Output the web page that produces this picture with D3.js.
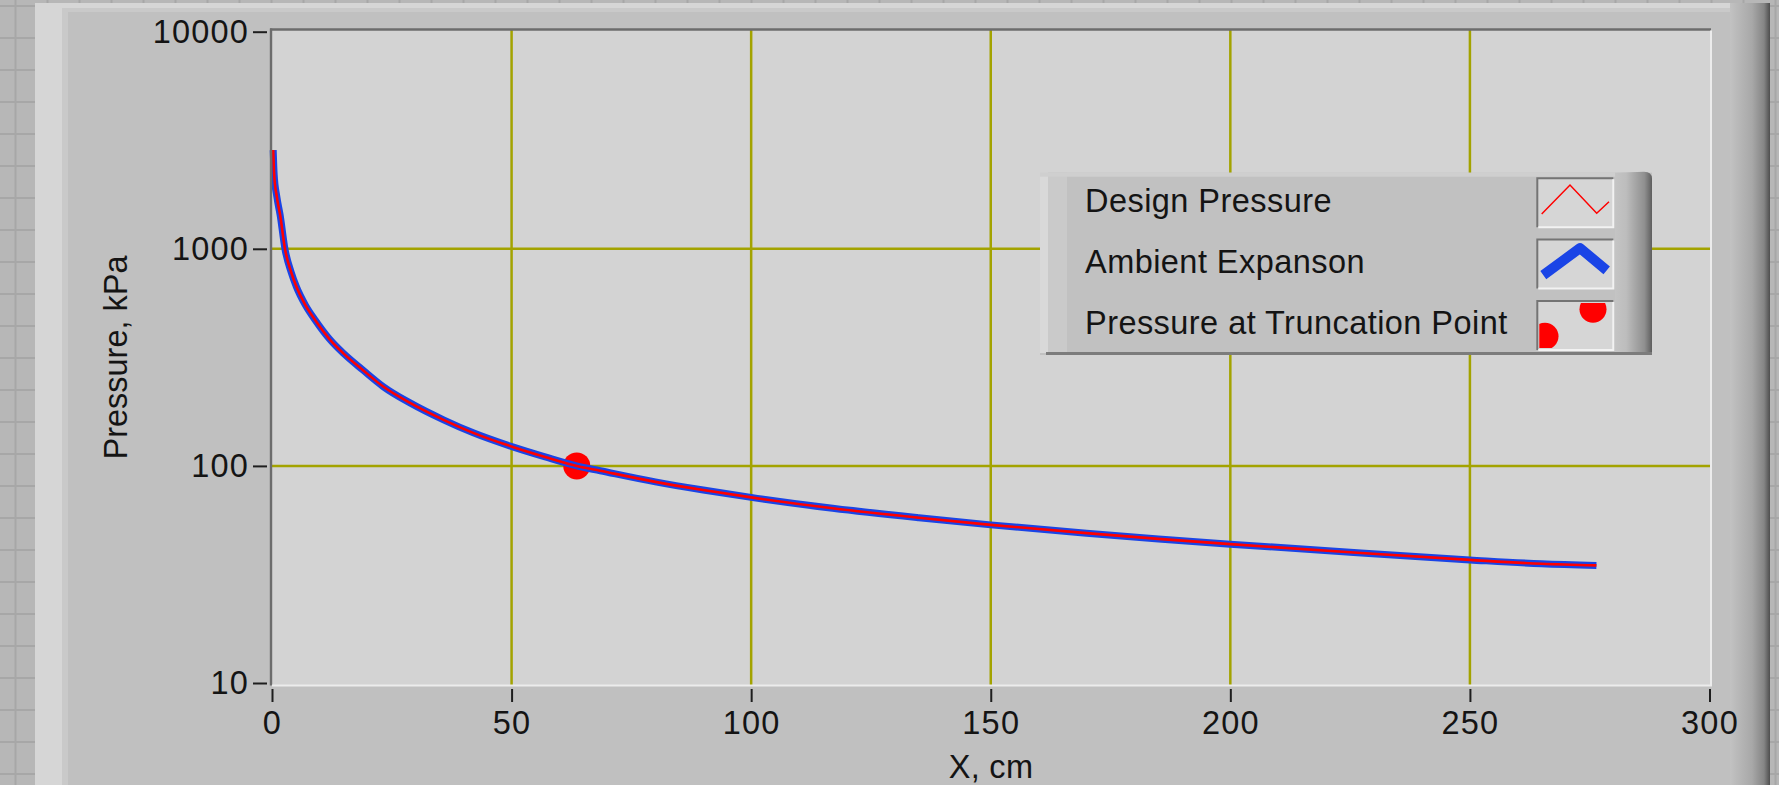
<!DOCTYPE html>
<html>
<head>
<meta charset="utf-8">
<script src="https://cdn.jsdelivr.net/npm/d3@7"></script>
<style>
  html, body { margin: 0; padding: 0; background: #b6b6b6; overflow: hidden; }
  svg { display: block; font-family: "Liberation Sans", Arial, Helvetica, sans-serif; }
</style>
</head>
<body>
<div id="chart"></div>
<script>
// values (x in cm, pressure in kPa)
const xCm = [0.25, 0.45, 1.0, 1.7, 2.7, 4, 5.1, 7, 9, 12, 14.9, 19, 23.2, 29, 35.8, 42, 50.4, 57, 63.6, 68.5,
    80, 90, 100, 117, 135, 150, 170, 185, 200, 225, 250, 265, 276.4];
const designPressure = [2850, 2200, 1740, 1430, 1000, 780, 668, 549, 470, 384, 330, 276, 232, 194, 163, 142, 122, 110, 100, 95,
    84.4, 77.4, 71.6, 63.8, 57.7, 53.5, 49, 46.1, 43.6, 40, 36.9, 35.4, 34.8];
const ambientExpansion = [2850, 2200, 1740, 1430, 1000, 780, 668, 549, 470, 384, 330, 276, 232, 194, 163, 142, 122, 110, 100, 95,
    84.4, 77.4, 71.6, 63.8, 57.7, 53.5, 49, 46.1, 43.6, 40, 36.9, 35.4, 34.8];
const truncationX = [63.6];
const truncationP = [100];

const xTicks = [0, 50, 100, 150, 200, 250, 300];
const yTicks = [10, 100, 1000, 10000];
const legendLabels = ['Design Pressure', 'Ambient Expanson', 'Pressure at Truncation Point'];
const xTitle = 'X, cm';
const yTitle = 'Pressure, kPa';

const width = 1779, height = 785;
const fontSize = '32.5px';
const textColor = '#141414';

const plot = { left: 271, top: 29.5, right: 1711, bottom: 685.5 };

const svg = d3.select('#chart').append('svg')
    .attr('width', width)
    .attr('height', height);

const defs = svg.append('defs');

// LabVIEW front panel grid behind the graph
const pat = defs.append('pattern')
    .attr('id', 'panelGrid')
    .attr('patternUnits', 'userSpaceOnUse')
    .attr('width', 32).attr('height', 32);
pat.append('rect').attr('width', 32).attr('height', 32).attr('fill', '#b7b7b7');
pat.append('rect').attr('x', 14.5).attr('y', 0).attr('width', 2).attr('height', 32).attr('fill', '#a7a7a7');
pat.append('rect').attr('x', 0).attr('y', 5).attr('width', 32).attr('height', 2).attr('fill', '#a7a7a7');

svg.append('rect').attr('width', width).attr('height', height).attr('fill', 'url(#panelGrid)');

// graph frame
svg.append('rect').attr('x', 35).attr('y', 3).attr('width', 1735).attr('height', 800).attr('fill', '#c0c0c0');
svg.append('rect').attr('x', 35).attr('y', 3).attr('width', 1735).attr('height', 5).attr('fill', '#d6d6d6');
svg.append('rect').attr('x', 35).attr('y', 8).attr('width', 1735).attr('height', 4).attr('fill', '#c9c9c9');
svg.append('rect').attr('x', 35).attr('y', 3).attr('width', 27).attr('height', 800).attr('fill', '#d6d6d6');
svg.append('rect').attr('x', 62).attr('y', 12).attr('width', 6).attr('height', 800).attr('fill', '#c9c9c9');

const rightGrad = defs.append('linearGradient').attr('id', 'rightBevel');
rightGrad.append('stop').attr('offset', '0%').attr('stop-color', '#c2c2c2');
rightGrad.append('stop').attr('offset', '55%').attr('stop-color', '#a8a8a8');
rightGrad.append('stop').attr('offset', '85%').attr('stop-color', '#858585');
rightGrad.append('stop').attr('offset', '100%').attr('stop-color', '#4e4e4e');
svg.append('rect').attr('x', 1730).attr('y', 3).attr('width', 40).attr('height', 800).attr('fill', 'url(#rightBevel)');

// scales
const x = d3.scaleLinear().domain([0, 300]).range([272, 1709.5]);
const y = d3.scaleLog().domain([10, 10000]).range([683, 31.7]);

// plot area
svg.append('rect')
    .attr('x', plot.left).attr('y', plot.top)
    .attr('width', plot.right - plot.left).attr('height', plot.bottom - plot.top)
    .attr('fill', '#d3d3d3');

// grid lines
const grid = svg.append('g').attr('stroke', '#a3a300').attr('stroke-width', 2.5);
grid.selectAll('line.gx')
    .data(xTicks.filter(d => d > 0 && d < 300))
  .enter().append('line')
    .attr('class', 'gx')
    .attr('x1', d => x(d)).attr('x2', d => x(d))
    .attr('y1', plot.top).attr('y2', plot.bottom);
grid.selectAll('line.gy')
    .data(yTicks.filter(d => d > 10 && d < 10000))
  .enter().append('line')
    .attr('class', 'gy')
    .attr('y1', d => y(d)).attr('y2', d => y(d))
    .attr('x1', plot.left).attr('x2', plot.right);

// truncation point marker sits under the curves
svg.selectAll('circle.trunc')
    .data(truncationX.map((v, i) => ({ x: v, p: truncationP[i] })))
  .enter().append('circle')
    .attr('class', 'trunc')
    .attr('cx', d => x(d.x))
    .attr('cy', d => y(d.p))
    .attr('r', 13.5)
    .attr('fill', '#ff0000');

const line = d3.line()
    .x((d, i) => x(xCm[i]))
    .y(d => y(d))
    .curve(d3.curveMonotoneX);

svg.append('path')
    .datum(ambientExpansion)
    .attr('d', line)
    .attr('fill', 'none')
    .attr('stroke', '#1a44e6')
    .attr('stroke-width', 7)
    .attr('stroke-linejoin', 'round');

svg.append('path')
    .datum(designPressure)
    .attr('d', line)
    .attr('fill', 'none')
    .attr('stroke', '#ff0000')
    .attr('stroke-width', 2.6)
    .attr('stroke-linejoin', 'round');

// sunken border of the plot area
svg.append('line').attr('x1', plot.left - 1).attr('x2', plot.right).attr('y1', plot.top).attr('y2', plot.top)
    .attr('stroke', '#6c6c6c').attr('stroke-width', 2.4);
svg.append('line').attr('x1', plot.left).attr('x2', plot.left).attr('y1', plot.top - 1).attr('y2', plot.bottom)
    .attr('stroke', '#6c6c6c').attr('stroke-width', 2.4);
svg.append('line').attr('x1', plot.left + 1).attr('x2', plot.right + 1).attr('y1', plot.bottom).attr('y2', plot.bottom)
    .attr('stroke', '#ececec').attr('stroke-width', 2);
svg.append('line').attr('x1', plot.right).attr('x2', plot.right).attr('y1', plot.top + 1).attr('y2', plot.bottom)
    .attr('stroke', '#ececec').attr('stroke-width', 2);

// axes
const yAxis = d3.axisLeft(y)
    .tickValues(yTicks)
    .tickFormat(d3.format('d'))
    .tickSize(14)
    .tickPadding(4);

const yg = svg.append('g')
    .attr('transform', 'translate(267,0)')
    .call(yAxis);
yg.select('.domain').remove();

const xAxis = d3.axisBottom(x)
    .tickValues(xTicks)
    .tickFormat(d3.format('d'))
    .tickSize(13)
    .tickPadding(9);

const xg = svg.append('g')
    .attr('transform', 'translate(0,689)')
    .call(xAxis);
xg.select('.domain').remove();

[xg, yg].forEach(g => {
    g.attr('font-family', null).attr('font-size', null);
    g.selectAll('.tick line').attr('stroke', '#1e1e1e').attr('stroke-width', 2);
    g.selectAll('.tick text').attr('fill', textColor)
        .style('font-size', fontSize)
        .style('letter-spacing', '1.2px');
});

// axis titles
svg.append('text')
    .attr('x', (plot.left + plot.right) / 2)
    .attr('y', 778)
    .attr('text-anchor', 'middle')
    .attr('fill', textColor)
    .style('font-size', fontSize)
    .style('letter-spacing', '0.3px')
    .text(xTitle);

svg.append('text')
    .attr('transform', `translate(126.5,${(plot.top + plot.bottom) / 2}) rotate(-90)`)
    .attr('text-anchor', 'middle')
    .attr('fill', textColor)
    .style('font-size', fontSize)
    .text(yTitle);

// legend
const lg = svg.append('g');
const lgBox = { x: 1040, y: 172.7, w: 612, h: 182.3 };

lg.append('rect').attr('x', lgBox.x).attr('y', lgBox.y).attr('width', lgBox.w).attr('height', lgBox.h).attr('fill', '#c1c1c1');
lg.append('rect').attr('x', lgBox.x).attr('y', lgBox.y).attr('width', 8).attr('height', lgBox.h - 2).attr('fill', '#d9d9d9');
lg.append('rect').attr('x', lgBox.x + 8).attr('y', lgBox.y).attr('width', 19).attr('height', lgBox.h - 3).attr('fill', '#cacaca');
lg.append('rect').attr('x', lgBox.x).attr('y', lgBox.y).attr('width', lgBox.w - 30).attr('height', 4).attr('fill', '#cfcfcf');

const lgGrad = defs.append('linearGradient').attr('id', 'legendBevel');
lgGrad.append('stop').attr('offset', '0%').attr('stop-color', '#c4c4c4');
lgGrad.append('stop').attr('offset', '30%').attr('stop-color', '#bdbdbd');
lgGrad.append('stop').attr('offset', '80%').attr('stop-color', '#8f8f8f');
lgGrad.append('stop').attr('offset', '100%').attr('stop-color', '#5e5e5e');
lg.append('path')
    .attr('d', `M${lgBox.x + lgBox.w - 37},${lgBox.y} L${lgBox.x + lgBox.w - 8},${lgBox.y - 1} Q${lgBox.x + lgBox.w},${lgBox.y - 1} ${lgBox.x + lgBox.w},${lgBox.y + 6} L${lgBox.x + lgBox.w},${lgBox.y + lgBox.h} L${lgBox.x + lgBox.w - 37},${lgBox.y + lgBox.h} Z`)
    .attr('fill', 'url(#legendBevel)');
lg.append('rect').attr('x', lgBox.x + 6).attr('y', lgBox.y + lgBox.h - 3).attr('width', lgBox.w - 6).attr('height', 3).attr('fill', '#7c7c7c');

const rowH = 61.3;
const rows = lg.selectAll('g.row')
    .data(legendLabels)
  .enter().append('g')
    .attr('class', 'row')
    .attr('transform', (d, i) => `translate(0,${i * rowH})`);

rows.append('text')
    .attr('x', 1085)
    .attr('y', 211.7)
    .attr('fill', textColor)
    .style('font-size', fontSize)
    .style('letter-spacing', '0.45px')
    .text(d => d);

const icon = { x: 1537.3, y: 178.3, w: 76, h: 49 };
rows.append('rect')
    .attr('x', icon.x).attr('y', icon.y).attr('width', icon.w).attr('height', icon.h)
    .attr('fill', '#d6d6d6');
rows.append('path')
    .attr('d', `M${icon.x},${icon.y + icon.h} V${icon.y} H${icon.x + icon.w}`)
    .attr('fill', 'none').attr('stroke', '#747474').attr('stroke-width', 2);
rows.append('path')
    .attr('d', `M${icon.x + 1},${icon.y + icon.h} H${icon.x + icon.w} V${icon.y + 1}`)
    .attr('fill', 'none').attr('stroke', '#f2f2f2').attr('stroke-width', 2);

const iconLine = d3.line();
lg.append('path')
    .attr('d', iconLine([[4.4, 35.7], [32.7, 6.7], [59.4, 35], [71.7, 23.4]].map(p => [icon.x + p[0], icon.y + p[1]])))
    .attr('fill', 'none').attr('stroke', '#ff0000').attr('stroke-width', 1.5);

lg.append('path')
    .attr('d', iconLine([[6, 35.5], [42.7, 8.5], [69.4, 30.7]].map(p => [icon.x + p[0], icon.y + rowH + p[1]])))
    .attr('fill', 'none').attr('stroke', '#1a44e6').attr('stroke-width', 10).attr('stroke-linejoin', 'round');

defs.append('clipPath').attr('id', 'iconClip')
  .append('rect')
    .attr('x', icon.x + 2).attr('y', icon.y + 2 * rowH + 2)
    .attr('width', icon.w - 4).attr('height', icon.h - 4);
lg.append('g').attr('clip-path', 'url(#iconClip)')
    .selectAll('path')
    .data([[7.7, 35.3], [55.7, 8.3]])
  .enter().append('path')
    .attr('transform', d => `translate(${icon.x + d[0]},${icon.y + 2 * rowH + d[1]})`)
    .attr('d', d3.symbol(d3.symbolCircle, Math.PI * 13.5 * 13.5))
    .attr('fill', '#ff0000');
</script>
</body>
</html>
